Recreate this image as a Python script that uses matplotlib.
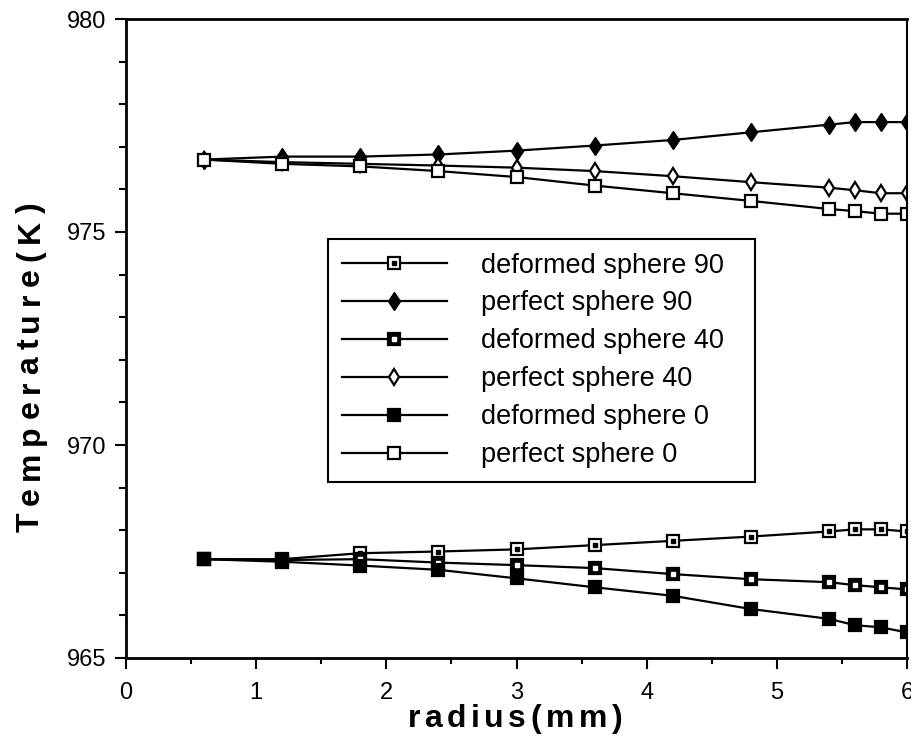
import matplotlib
matplotlib.use("Agg")
import matplotlib.pyplot as plt
from matplotlib.legend_handler import HandlerTuple
from matplotlib.ticker import MultipleLocator

# ---------------- data ----------------
radius = [0.6, 1.2, 1.8, 2.4, 3.0, 3.6, 4.2, 4.8, 5.4, 5.6, 5.8, 6.0]
perfect_90 = [976.70, 976.77, 976.77, 976.82, 976.91, 977.03, 977.16, 977.34, 977.52, 977.58, 977.58, 977.58]
perfect_40 = [976.70, 976.64, 976.60, 976.56, 976.51, 976.43, 976.31, 976.17, 976.04, 975.98, 975.91, 975.91]
perfect_0 = [976.70, 976.60, 976.54, 976.43, 976.29, 976.09, 975.91, 975.73, 975.54, 975.49, 975.43, 975.43]
deformed_90 = [967.32, 967.32, 967.46, 967.50, 967.55, 967.65, 967.75, 967.85, 967.97, 968.02, 968.02, 967.97]
deformed_40 = [967.32, 967.30, 967.32, 967.24, 967.18, 967.11, 966.97, 966.85, 966.78, 966.71, 966.66, 966.61]
deformed_0 = [967.32, 967.26, 967.17, 967.07, 966.87, 966.66, 966.46, 966.15, 965.92, 965.77, 965.72, 965.60]

labels = ["deformed sphere 90", "perfect sphere 90", "deformed sphere 40",
          "perfect sphere 40", "deformed sphere 0", "perfect sphere 0"]
x_ticks = [0, 1, 2, 3, 4, 5, 6]
y_ticks = [965, 970, 975, 980]

# ---------------- figure ----------------
W, H = 912, 753
plt.rcParams['font.family'] = ['Liberation Sans', 'DejaVu Sans']
fig = plt.figure(figsize=(W / 100, H / 100), dpi=100)
L, R, T, B = 126, 907, 19, 658
ax = fig.add_axes([L / W, 1 - B / H, (R - L) / W, (B - T) / H])

lw = 1.6
common = dict(color='black', lw=lw)
sq = 8.2

# deformed sphere 90: open square with black dot
h_d90 = ax.plot(radius, deformed_90, marker='s', ms=sq, mfc='white', mec='black', mew=1.6, **common)[0]
d_d90 = ax.plot(radius, deformed_90, ls='none', marker='s', ms=2.2, color='black')[0]
# perfect sphere 90: filled diamond
h_p90 = ax.plot(radius, perfect_90, marker='d', ms=9.5, mfc='black', mec='black', mew=1, **common)[0]
# deformed sphere 40: filled square with white dot
h_d40 = ax.plot(radius, deformed_40, marker='s', ms=sq, mfc='black', mec='black', mew=1.6, **common)[0]
d_d40 = ax.plot(radius, deformed_40, ls='none', marker='s', ms=2.2, color='white')[0]
# perfect sphere 40: open diamond
h_p40 = ax.plot(radius, perfect_40, marker='d', ms=8, mfc='white', mec='black', mew=1.6, **common)[0]
# deformed sphere 0: filled square
h_d0 = ax.plot(radius, deformed_0, marker='s', ms=sq, mfc='black', mec='black', mew=1.6, **common)[0]
# perfect sphere 0: open square
h_p0 = ax.plot(radius, perfect_0, marker='s', ms=sq, mfc='white', mec='black', mew=1.6, **common)[0]

ax.set_xlim(0, 6)
ax.set_ylim(965, 980)
ax.set_xticks(x_ticks)
ax.set_yticks(y_ticks)
ax.xaxis.set_minor_locator(MultipleLocator(0.5))
ax.yaxis.set_minor_locator(MultipleLocator(1))
ax.tick_params(which='major', direction='out', length=8, width=1.5, labelsize=17, pad=6)
ax.tick_params(axis='x', which='major', pad=9)
ax.tick_params(axis='y', which='minor', direction='out', length=5, width=1.5)
ax.tick_params(axis='x', which='minor', direction='out', length=4, width=1.5)
for side in ['left', 'bottom', 'top']:
    ax.spines[side].set_linewidth(2.0)
ax.spines['right'].set_linewidth(1.5)

# legend
handles = [(h_d90, d_d90), h_p90, (h_d40, d_d40), h_p40, h_d0, h_p0]
leg = fig.legend(handles, labels, loc='upper left',
                 bbox_to_anchor=(328 / W, 1 - 485 / H, 427 / W, 246 / H),
                 bbox_transform=fig.transFigure, mode='expand',
                 handler_map={tuple: HandlerTuple(ndivide=1, pad=0)},
                 fontsize=19.5, frameon=True, fancybox=False, shadow=False,
                 numpoints=1, handlelength=3.9, handletextpad=1.25,
                 labelspacing=0.44, borderpad=0.5, borderaxespad=0)
leg.get_frame().set_edgecolor('black')
leg.get_frame().set_linewidth(1.5)
leg.get_frame().set_alpha(1)


# letter-spaced bold axis labels
def spaced_label(text, cx, cy, size, gap, vertical=False):
    renderer = fig.canvas.get_renderer()
    props = dict(fontsize=size, fontweight='bold')
    widths = []
    for ch in text:
        t = fig.text(0, 0, ch, **props)
        widths.append(t.get_window_extent(renderer).width)
        t.remove()
    total = sum(widths) + gap * (len(text) - 1)
    pos = -total / 2
    for ch, w in zip(text, widths):
        c = pos + w / 2
        if vertical:
            x, y, rot = cx, cy - c, 90
        else:
            x, y, rot = cx + c, cy, 0
        fig.text(x / W, 1 - y / H, ch, ha='center', va='baseline',
                 rotation=rot, rotation_mode='anchor', **props)
        pos += w + gap


spaced_label("Temperature(K)", 38.5, 367, 23, 7, vertical=True)
spaced_label("radius(mm)", 515, 727, 23, 4.5)

fig.savefig("out.png", dpi=100)
